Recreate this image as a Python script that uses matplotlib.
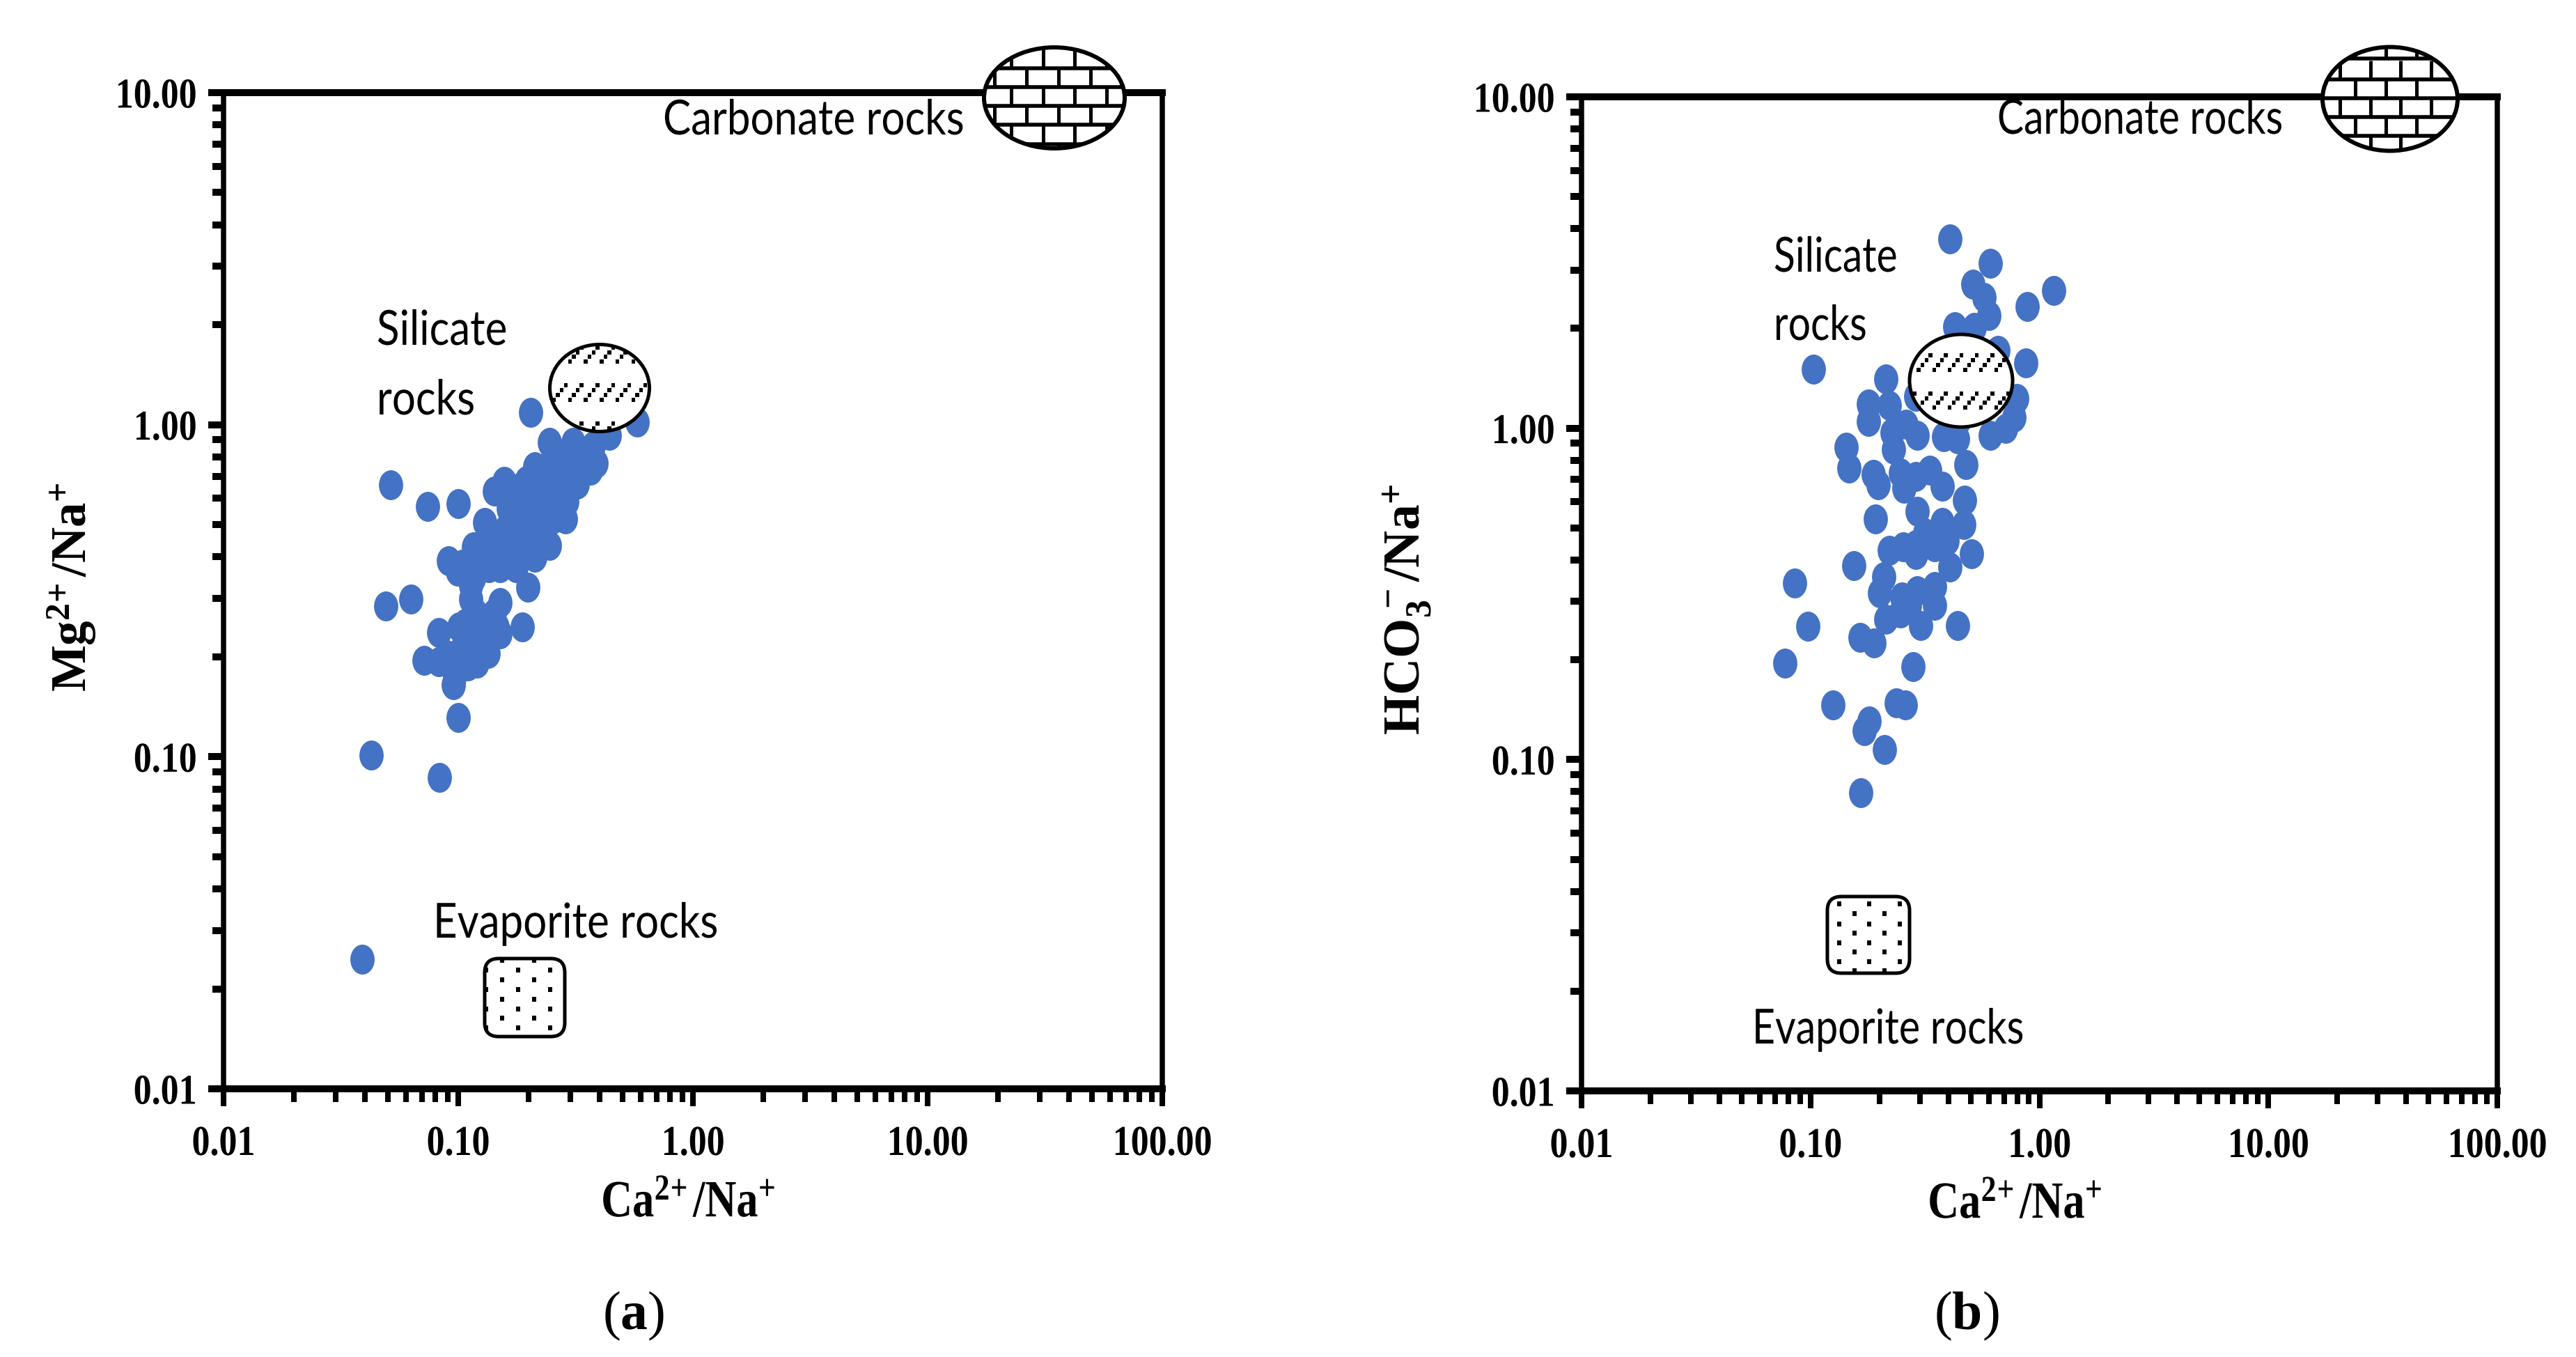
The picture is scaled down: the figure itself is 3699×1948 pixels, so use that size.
import numpy as np
import matplotlib
matplotlib.use("Agg")
import matplotlib.pyplot as plt
from matplotlib.patches import Ellipse, FancyBboxPatch, Rectangle
from matplotlib.patheffects import AbstractPathEffect
from matplotlib.path import Path
from matplotlib.transforms import Affine2D
from matplotlib.ticker import LogLocator, FixedFormatter, FixedLocator, NullFormatter

plt.rcParams['mathtext.fontset'] = 'custom'
plt.rcParams['mathtext.rm'] = 'Liberation Serif'
plt.rcParams['mathtext.bf'] = 'Liberation Serif:bold'
plt.rcParams['mathtext.it'] = 'Liberation Serif:italic'

# panel a: Ca/Na against Mg/Na
ca_na_a = [0.203, 0.0515, 0.0738, 0.0997, 0.049, 0.0628, 0.0426, 0.083, 0.0997, 0.188,
           0.579, 0.44, 0.244, 0.309, 0.386, 0.366, 0.157, 0.161, 0.130, 0.0906,
           0.198, 0.244, 0.286, 0.0826, 0.0714, 0.0953, 0.1205, 0.134, 0.151, 0.151,
           0.0826, 0.0966, 0.1045, 0.122, 0.107, 0.129, 0.113, 0.116, 0.1355, 0.1045,
           0.122, 0.151, 0.176, 0.116, 0.143, 0.176, 0.212, 0.195, 0.235, 0.186,
           0.217, 0.254, 0.29, 0.297, 0.223, 0.261, 0.305, 0.305, 0.254, 0.163,
           0.039, 0.143, 0.167, 0.195, 0.229, 0.176, 0.212, 0.254, 0.282, 0.229,
           0.159, 0.129, 0.113, 0.151, 0.186, 0.212, 0.099, 0.113, 0.119, 0.143,
           0.1005, 0.129, 0.147, 0.0893, 0.110, 0.0966, 0.321, 0.33, 0.376, 0.282,
           0.212, 0.181]
mg_na_a = [1.09, 0.659, 0.566, 0.579, 0.284, 0.298, 0.101, 0.0865, 0.131, 0.246,
           1.02, 0.93, 0.885, 0.885, 0.765, 0.73, 0.675, 0.60, 0.507, 0.389,
           0.324, 0.433, 0.52, 0.237, 0.195, 0.165, 0.191, 0.205, 0.234, 0.291,
           0.193, 0.193, 0.213, 0.223, 0.252, 0.258, 0.299, 0.345, 0.371, 0.380,
           0.408, 0.408, 0.371, 0.428, 0.46, 0.46, 0.439, 0.52, 0.507, 0.586,
           0.615, 0.586, 0.586, 0.662, 0.711, 0.73, 0.747, 0.82, 0.803, 0.558,
           0.0245, 0.631, 0.645, 0.677, 0.662, 0.546, 0.546, 0.52, 0.615, 0.586,
           0.483, 0.438, 0.389, 0.371, 0.408, 0.398, 0.362, 0.329, 0.271, 0.271,
           0.246, 0.229, 0.246, 0.203, 0.188, 0.175, 0.662, 0.766, 0.863, 0.783,
           0.746, 0.631]

# panel b: Ca/Na against HCO3/Na
ca_na_b = [0.406, 0.61, 0.513, 0.573, 0.60, 1.155, 0.885, 0.426, 0.521, 0.659,
           0.873, 0.103, 0.214, 0.221, 0.179, 0.179, 0.794, 0.777, 0.61, 0.292,
           0.228, 0.262, 0.381, 0.439, 0.479, 0.143, 0.147, 0.188, 0.198, 0.23,
           0.247, 0.256, 0.288, 0.331, 0.376, 0.472, 0.292, 0.192, 0.376, 0.468,
           0.316, 0.505, 0.406, 0.221, 0.254, 0.288, 0.348, 0.394, 0.288, 0.155,
           0.0853, 0.209, 0.201, 0.348, 0.292, 0.25, 0.348, 0.27, 0.214, 0.247,
           0.302, 0.439, 0.0975, 0.165, 0.189, 0.0773, 0.281, 0.125, 0.237, 0.26,
           0.180, 0.172, 0.211, 0.166, 0.288, 0.711, 0.446]
hco3_na_b = [3.73, 3.14, 2.72, 2.48, 2.19, 2.60, 2.33, 2.02, 2.01, 1.72,
             1.57, 1.51, 1.41, 1.17, 1.18, 1.05, 1.23, 1.08, 0.95, 0.95,
             0.97, 1.03, 0.944, 0.93, 0.778, 0.875, 0.757, 0.725, 0.673, 0.865,
             0.734, 0.658, 0.715, 0.746, 0.667, 0.605, 0.56, 0.533, 0.519, 0.512,
             0.484, 0.417, 0.381, 0.427, 0.439, 0.445, 0.439, 0.457, 0.415, 0.385,
             0.341, 0.356, 0.318, 0.332, 0.323, 0.309, 0.292, 0.292, 0.265, 0.277,
             0.254, 0.254, 0.252, 0.234, 0.225, 0.195, 0.191, 0.146, 0.148, 0.146,
             0.131, 0.122, 0.107, 0.0794, 1.25, 1.0, 1.06]

tick_values = [0.01, 0.1, 1, 10, 100]
tick_labels = ['0.01', '0.10', '1.00', '10.00', '100.00']
ytick_values = [0.01, 0.1, 1, 10]
ytick_labels = ['0.01', '0.10', '1.00', '10.00']

W, H = 3699, 1948
BLUE = '#4472C4'
SANS = 'Lato'
SERIF = 'Liberation Serif'
px = 72 / 100   # points per pixel at dpi 100

# the dots in the picture are a bit taller than wide
tall_dot = Path.unit_circle().transformed(Affine2D().scale(0.81, 1.0))


class Narrow(AbstractPathEffect):
    """squeeze horizontal text, the source image is stretched"""

    def __init__(self, factor, anchor='left'):
        super().__init__()
        self.factor = factor
        self.anchor = anchor

    def draw_path(self, renderer, gc, tpath, affine, rgbFace=None):
        m = affine.get_matrix().copy()
        ext = tpath.get_extents()
        keep = {'left': 0, 'center': (ext.x0 + ext.x1) / 2, 'right': ext.x1}[self.anchor]
        m[0, 2] += m[0, 0] * (1 - self.factor) * keep
        m[0, 0] *= self.factor
        m[0, 1] *= self.factor
        renderer.draw_path(gc, tpath, Affine2D(m), rgbFace)


fig = plt.figure(figsize=(W / 100, H / 100), dpi=100, facecolor='white')


def make_panel(box, xs, ys, ylabel, xlabel_xy, ylabel_xy, ylabel_size):
    left, top, right, bottom = box
    ax = fig.add_axes([left / W, 1 - bottom / H, (right - left) / W, (bottom - top) / H])
    ax.set_xscale('log')
    ax.set_yscale('log')
    ax.set_xlim(0.01, 100)
    ax.set_ylim(0.01, 10)
    ax.plot(xs, ys, ls='none', marker=tall_dot, ms=43 * px, mfc=BLUE, mec='none', clip_on=False)

    ax.spines['left'].set_linewidth(7.5 * px)
    ax.spines['right'].set_linewidth(7.5 * px)
    ax.spines['top'].set_linewidth(10 * px)
    ax.spines['bottom'].set_linewidth(10 * px)

    ax.xaxis.set_major_locator(FixedLocator(tick_values))
    ax.xaxis.set_major_formatter(FixedFormatter(tick_labels))
    ax.yaxis.set_major_locator(FixedLocator(ytick_values))
    ax.yaxis.set_major_formatter(FixedFormatter(ytick_labels))
    ax.xaxis.set_minor_locator(LogLocator(base=10, subs=np.arange(2, 10), numticks=20))
    ax.yaxis.set_minor_locator(LogLocator(base=10, subs=np.arange(2, 10), numticks=20))
    ax.xaxis.set_minor_formatter(NullFormatter())
    ax.yaxis.set_minor_formatter(NullFormatter())

    ax.tick_params(axis='x', which='major', length=25 * px, width=8 * px, pad=27 * px)
    ax.tick_params(axis='x', which='minor', length=19 * px, width=8 * px)
    ax.tick_params(axis='y', which='major', length=22 * px, width=10 * px, pad=16 * px)
    ax.tick_params(axis='y', which='minor', length=16 * px, width=10 * px)
    for lab in ax.get_xticklabels() + ax.get_yticklabels():
        lab.set_fontname(SERIF)
        lab.set_fontweight('bold')
        lab.set_fontsize(44)
    for lab in ax.get_xticklabels():
        lab.set_path_effects([Narrow(0.85, 'center')])
    for lab in ax.get_yticklabels():
        lab.set_path_effects([Narrow(0.85, 'right')])

    xlab = ov.text(xlabel_xy[0], xlabel_xy[1], r'$\mathbf{Ca^{2\!+}/Na^{+}}$', fontsize=54,
                   ha='center', va='center')
    xlab.set_path_effects([Narrow(0.83, 'center')])
    ov.text(ylabel_xy[0], ylabel_xy[1], ylabel, fontsize=ylabel_size, rotation=90,
            ha='center', va='center')
    return ax


def oval(cx, cy, w, h):
    shape = Ellipse((cx, cy), w, h, fc='white', ec='none', zorder=5)
    ov.add_patch(shape)
    return shape


def outline(cx, cy, w, h, lw=5):
    ov.add_patch(Ellipse((cx, cy), w, h, fc='none', ec='black', lw=lw * px, zorder=8))


def silicate_symbol(cx, cy, w, h, x0, y0, dx=22.3, dy=54.3):
    clip = oval(cx, cy, w, h)
    for row in range(-1, 3):
        for col in range(-2, 9):
            for k in range(4):
                sx = x0 + col * dx + k * 5.6
                sy = y0 + row * dy - k * 6.9
                sq = Rectangle((sx - 2.7, sy - 3), 5.4, 6, fc='black', ec='none', zorder=6)
                ov.add_patch(sq)
                sq.set_clip_path(clip)
    outline(cx, cy, w, h)


def carbonate_symbol(cx, cy, w, h, rows, cols_odd, cols_even):
    clip = oval(cx, cy, w, h)
    for i, y in enumerate(rows):
        line, = ov.plot([cx - w, cx + w], [y, y], color='black', lw=5.5 * px, zorder=6,
                        solid_capstyle='butt')
        line.set_clip_path(clip)
        # vertical joints of the row above this line
        cols = cols_odd if i % 2 == 0 else cols_even
        for x in cols:
            v, = ov.plot([x, x], [y - 27.3, y], color='black', lw=5 * px, zorder=6,
                         solid_capstyle='butt')
            v.set_clip_path(clip)
    cols = cols_even if len(rows) % 2 == 1 else cols_odd
    for x in cols:
        v, = ov.plot([x, x], [rows[-1], rows[-1] + 27.3], color='black', lw=5 * px, zorder=6,
                     solid_capstyle='butt')
        v.set_clip_path(clip)
    outline(cx, cy, w, h, lw=6)


def evaporite_symbol(left, top, right, bottom, xa, xb, ya, yb):
    ov.add_patch(FancyBboxPatch((left, top), right - left, bottom - top,
                                boxstyle='round,pad=0,rounding_size=20',
                                fc='white', ec='black', lw=5 * px, zorder=5))
    for xs_, ys_ in ((xa, ya), (xb, yb)):
        for x in xs_:
            for y in ys_:
                ov.add_patch(Rectangle((x - 3, y - 3.5), 6, 7, fc='black', ec='none', zorder=6))


def note(x, y, s, factor=0.865):
    t = ov.text(x, y, s, fontsize=50, family=SANS, ha='left', va='baseline', color='black', zorder=9)
    t.set_path_effects([Narrow(factor)])


# overlay in picture pixels for the rock symbols and all free text
ov = fig.add_axes([0, 0, 1, 1], zorder=10)
ov.set_xlim(0, W)
ov.set_ylim(H, 0)
ov.axis('off')

make_panel((321, 133, 1669, 1563), ca_na_a, mg_na_a, r'$\mathbf{Mg^{2\!+}/Na^{+}}$',
           (988, 1726), (103, 843), 51)
make_panel((2271, 139, 3586, 1566), ca_na_b, hco3_na_b, r'$\mathbf{HCO_{3}^{\,-}/Na^{+}}$',
           (2893, 1728), (2021, 875), 53)

# panel a symbols and notes
carbonate_symbol(1514, 140.5, 202, 145, [98, 125, 152, 179, 207],
                 [1452, 1498, 1543, 1589], [1428, 1474, 1520, 1566])
silicate_symbol(861, 557, 143, 125, 818.3, 574, dx=22.8, dy=54.7)
evaporite_symbol(696, 1376, 811, 1488, [721, 767], [698, 744, 790],
                 [1378, 1406, 1434, 1461], [1392, 1420, 1448, 1475])
note(952, 193, 'Carbonate rocks')
note(541, 495, 'Silicate')
note(541, 595, 'rocks')
note(622, 1346, 'Evaporite rocks')

# panel b symbols and notes
carbonate_symbol(3432, 142, 194, 149, [84, 114, 141, 168, 195],
                 [3382, 3426, 3470], [3360, 3404, 3447, 3491])
silicate_symbol(2816, 546.5, 148, 133, 2755, 531)
evaporite_symbol(2624, 1287, 2742, 1397, [2641, 2684, 2728], [2663, 2706],
                 [1297.5, 1326, 1353, 1380], [1311.5, 1339, 1366.5, 1393])
note(2868, 192, 'Carbonate rocks', 0.82)
note(2547, 390, 'Silicate', 0.82)
note(2547, 488, 'rocks', 0.82)
note(2516, 1498, 'Evaporite rocks', 0.825)

ov.text(910, 1889, r'$\mathrm{(}\mathbf{a}\mathrm{)}$', fontsize=56, ha='center', va='center')
ov.text(2824, 1889, r'$\mathrm{(}\mathbf{b}\mathrm{)}$', fontsize=56, ha='center', va='center')

fig.savefig('out.png', dpi=100, facecolor='white')
